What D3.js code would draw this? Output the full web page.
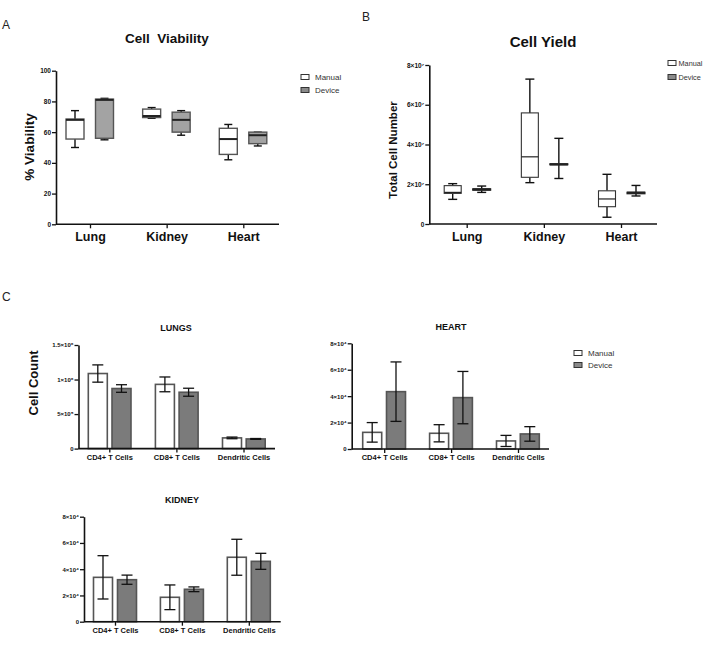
<!DOCTYPE html>
<html><head><meta charset="utf-8">
<script src="https://cdn.jsdelivr.net/npm/d3@7"></script>
<style>
body{margin:0;background:#fff;}
svg{display:block;font-family:"Liberation Sans",Arial,sans-serif;}
</style></head>
<body><svg id="c" width="704" height="645"></svg>
<script>
// ---------- DATA ----------
const organs = ["Lung", "Kidney", "Heart"];
const groups = ["Manual", "Device"];
// [min, q1, median, q3, max]
const viabilityManual = [[50, 55.5, 68, 68.5, 74], [69, 69.5, 70.5, 75, 76], [42, 45.5, 55.5, 62.5, 65]];
const viabilityDevice = [[55, 56, 81, 81.5, 82], [58, 60, 68, 73, 74], [51, 52.5, 58, 60, 60]];
const viabilityTicks = [0, 20, 40, 60, 80, 100];

const yieldManual = [[1.24e7, 1.54e7, 1.59e7, 1.93e7, 2.03e7], [2.08e7, 2.35e7, 3.38e7, 5.59e7, 7.29e7], [0.34e7, 0.87e7, 1.26e7, 1.67e7, 2.5e7]];
const yieldDevice = [[1.59e7, 1.70e7, 1.74e7, 1.77e7, 1.91e7], [2.29e7, 2.98e7, 3.0e7, 3.03e7, 4.31e7], [1.41e7, 1.52e7, 1.57e7, 1.60e7, 1.94e7]];
const yieldTicks = [0, 2e7, 4e7, 6e7, 8e7];
const yieldTickLabels = ["0", "2×10⁷", "4×10⁷", "6×10⁷", "8×10⁷"];

const cellTypes = ["CD4+ T Cells", "CD8+ T Cells", "Dendritic Cells"];
const lungsManual = [1.087e6, 0.93e6, 0.155e6];
const lungsManualErr = [0.125e6, 0.107e6, 0.012e6];
const lungsDevice = [0.87e6, 0.816e6, 0.14e6];
const lungsDeviceErr = [0.055e6, 0.058e6, 0.006e6];
const lungsTicks = [0, 5e5, 1e6, 1.5e6];
const lungsTickLabels = ["0", "5×10⁵", "1×10⁶", "1.5×10⁶"];

const heartManual = [1.26e4, 1.19e4, 0.61e4];
const heartManualErr = [0.74e4, 0.65e4, 0.42e4];
const heartDevice = [4.34e4, 3.89e4, 1.14e4];
const heartDeviceErr = [2.25e4, 1.98e4, 0.55e4];

const kidneyManual = [3.38e4, 1.86e4, 4.91e4];
const kidneyManualErr = [1.65e4, 0.94e4, 1.37e4];
const kidneyDevice = [3.2e4, 2.47e4, 4.6e4];
const kidneyDeviceErr = [0.35e4, 0.18e4, 0.61e4];
const countTicks = [0, 2e4, 4e4, 6e4, 8e4];
const countTickLabels = ["0", "2×10⁴", "4×10⁴", "6×10⁴", "8×10⁴"];

// ---------- DRAW ----------
const svg = d3.select("#c");
const FONT_B = "bold";

function yAxis(g, y, ticks, labels, x, fs) {
  const ax = d3.axisLeft(y).tickValues(ticks).tickSize(4).tickSizeOuter(0)
    .tickFormat((d, i) => labels ? labels[i] : d);
  const a = g.append("g").attr("transform", `translate(${x},0)`).call(ax);
  a.select(".domain").attr("stroke", "#111").attr("stroke-width", 1.6);
  a.selectAll(".tick line").attr("stroke", "#111").attr("stroke-width", 1.3);
  a.selectAll(".tick text").attr("font-size", fs).attr("font-weight", "bold")
    .attr("fill", "#111").attr("x", -5).attr("font-family", "Liberation Sans, Arial, sans-serif");
  return a;
}
function xAxis(g, x, yPos, xStart, xEnd, fs, labelDy) {
  const ax = d3.axisBottom(x).tickSize(4).tickSizeOuter(0);
  const a = g.append("g").attr("transform", `translate(0,${yPos})`).call(ax);
  a.select(".domain").remove();
  a.append("line").attr("x1", xStart).attr("x2", xEnd).attr("stroke", "#111").attr("stroke-width", 1.6);
  a.selectAll(".tick line").attr("stroke", "#111").attr("stroke-width", 1.3);
  a.selectAll(".tick text").attr("font-size", fs).attr("font-weight", "bold").attr("fill", "#111")
    .attr("y", labelDy).attr("font-family", "Liberation Sans, Arial, sans-serif");
  return a;
}
function legend(g, x, y1, y2, fs, gap) {
  const items = [{n: groups[0], f: "#fff"}, {n: groups[1], f: "#8a8a8a"}];
  items.forEach((it, i) => {
    const yy = i === 0 ? y1 : y2;
    g.append("rect").attr("x", x).attr("y", yy - 2.5).attr("width", 8).attr("height", 5)
      .attr("fill", it.f).attr("stroke", "#333").attr("stroke-width", 1);
    g.append("text").attr("x", x + gap).attr("y", yy + 3).attr("font-size", fs)
      .attr("fill", "#333").text(it.n);
  });
}
function boxes(g, x, y, data, offset, w, fill, stroke, sw, medW, capW) {
  data.forEach((d, i) => {
    const cx = x(organs[i]) + offset;
    const [mn, q1, md, q3, mx] = d;
    g.append("line").attr("x1", cx).attr("x2", cx).attr("y1", y(mx)).attr("y2", y(q3)).attr("stroke", "#111").attr("stroke-width", 1.4);
    g.append("line").attr("x1", cx).attr("x2", cx).attr("y1", y(q1)).attr("y2", y(mn)).attr("stroke", "#111").attr("stroke-width", 1.4);
    g.append("line").attr("x1", cx - capW / 2).attr("x2", cx + capW / 2).attr("y1", y(mx)).attr("y2", y(mx)).attr("stroke", "#111").attr("stroke-width", 1.4);
    g.append("line").attr("x1", cx - capW / 2).attr("x2", cx + capW / 2).attr("y1", y(mn)).attr("y2", y(mn)).attr("stroke", "#111").attr("stroke-width", 1.4);
    g.append("rect").attr("x", cx - w / 2).attr("y", y(q3)).attr("width", w).attr("height", Math.max(0.5, y(q1) - y(q3)))
      .attr("fill", fill).attr("stroke", stroke).attr("stroke-width", sw);
    g.append("line").attr("x1", cx - w / 2).attr("x2", cx + w / 2).attr("y1", y(md)).attr("y2", y(md)).attr("stroke", "#222").attr("stroke-width", medW);
  });
}
function bars(g, x, y, vals, errs, offset, w, fill) {
  vals.forEach((v, i) => {
    const cx = x(cellTypes[i]) + offset;
    g.append("rect").attr("x", cx - w / 2).attr("y", y(v)).attr("width", w).attr("height", y(0) - y(v))
      .attr("fill", fill).attr("stroke", "#555").attr("stroke-width", 1.6);
    const e = errs[i];
    g.append("line").attr("x1", cx).attr("x2", cx).attr("y1", y(v + e)).attr("y2", y(v - e)).attr("stroke", "#111").attr("stroke-width", 1.3);
    [v + e, v - e].forEach(t => g.append("line").attr("x1", cx - 5.5).attr("x2", cx + 5.5).attr("y1", y(t)).attr("y2", y(t)).attr("stroke", "#111").attr("stroke-width", 1.3));
  });
}

// Panel letters
svg.append("text").attr("x", 2).attr("y", 29).attr("font-size", 12).attr("fill", "#222").text("A");
svg.append("text").attr("x", 362).attr("y", 21).attr("font-size", 12).attr("fill", "#222").text("B");
svg.append("text").attr("x", 2).attr("y", 301).attr("font-size", 12).attr("fill", "#222").text("C");

// ---- Panel A ----
{
  const g = svg.append("g");
  const y = d3.scaleLinear().domain([0, 100]).range([224.3, 70.7]);
  const x = d3.scalePoint().domain(organs).range([90, 243.3]);
  yAxis(g, y, viabilityTicks, null, 56, 6.5);
  xAxis(g, x, 224.3, 56, 279, 12.5, 8);
  boxes(g, x, y, viabilityManual, -15, 18, "#fff", "#555", 1.4, 2, 8);
  boxes(g, x, y, viabilityDevice, 14.5, 18, "#a3a3a3", "#555", 1.4, 2, 8);
  g.append("text").attr("x", 167).attr("y", 43).attr("text-anchor", "middle").attr("font-size", 13.5).attr("font-weight", FONT_B).attr("fill", "#111").attr("xml:space", "preserve").text("Cell  Viability");
  g.append("text").attr("transform", "translate(34,147) rotate(-90)").attr("text-anchor", "middle").attr("font-size", 13.5).attr("font-weight", FONT_B).attr("fill", "#111").text("% Viability");
  legend(g, 301, 77, 90, 8, 14);
}

// ---- Panel B ----
{
  const g = svg.append("g");
  const y = d3.scaleLinear().domain([0, 8e7]).range([224, 65]);
  const x = d3.scalePoint().domain(organs).range([466.7, 621]);
  yAxis(g, y, yieldTicks, yieldTickLabels, 429.3, 6.5);
  xAxis(g, x, 224, 429.3, 657, 12.5, 8);
  boxes(g, x, y, yieldManual, -14, 17, "#fff", "#333", 1.1, 1.2, 9);
  boxes(g, x, y, yieldDevice, 15, 18, "#8a8a8a", "#222", 1.1, 2.2, 9);
  g.append("text").attr("x", 543).attr("y", 47).attr("text-anchor", "middle").attr("font-size", 15).attr("font-weight", FONT_B).attr("fill", "#111").text("Cell Yield");
  g.append("text").attr("transform", "translate(397,150) rotate(-90)").attr("text-anchor", "middle").attr("font-size", 11.5).attr("font-weight", FONT_B).attr("fill", "#111").text("Total Cell Number");
  legend(g, 668, 63, 77, 7.3, 10.5);
}

// ---- Panel C: LUNGS ----
{
  const g = svg.append("g");
  const y = d3.scaleLinear().domain([0, 1.5e6]).range([448.6, 345]);
  const x = d3.scalePoint().domain(cellTypes).range([109.3, 243.5]);
  bars(g, x, y, lungsManual, lungsManualErr, -11.5, 19, "#fff");
  bars(g, x, y, lungsDevice, lungsDeviceErr, 12.2, 19, "#7b7b7b");
  yAxis(g, y, lungsTicks, lungsTickLabels, 78.5, 6);
  xAxis(g, x, 448.6, 78.5, 275, 7.5, 6);
  g.append("text").attr("x", 176).attr("y", 331).attr("text-anchor", "middle").attr("font-size", 9).attr("font-weight", FONT_B).attr("fill", "#111").text("LUNGS");
  g.append("text").attr("transform", "translate(38,383) rotate(-90)").attr("text-anchor", "middle").attr("font-size", 13).attr("font-weight", FONT_B).attr("fill", "#111").text("Cell Count");
}

// ---- Panel C: HEART ----
{
  const g = svg.append("g");
  const y = d3.scaleLinear().domain([0, 8e4]).range([449, 343.3]);
  const x = d3.scalePoint().domain(cellTypes).range([384.2, 518]);
  bars(g, x, y, heartManual, heartManualErr, -12, 19, "#fff");
  bars(g, x, y, heartDevice, heartDeviceErr, 11.8, 19, "#7b7b7b");
  yAxis(g, y, countTicks, countTickLabels, 351.7, 6);
  xAxis(g, x, 449, 351.7, 549, 7.5, 6);
  g.append("text").attr("x", 451).attr("y", 330).attr("text-anchor", "middle").attr("font-size", 9).attr("font-weight", FONT_B).attr("fill", "#111").text("HEART");
  legend(g, 574, 353, 365, 8, 14);
}

// ---- Panel C: KIDNEY ----
{
  const g = svg.append("g");
  const y = d3.scaleLinear().domain([0, 8e4]).range([621.7, 516.7]);
  const x = d3.scalePoint().domain(cellTypes).range([115, 248.8]);
  bars(g, x, y, kidneyManual, kidneyManualErr, -12, 19, "#fff");
  bars(g, x, y, kidneyDevice, kidneyDeviceErr, 12, 19, "#7b7b7b");
  yAxis(g, y, countTicks, countTickLabels, 84, 6);
  xAxis(g, x, 621.7, 84, 280.7, 7.5, 6);
  g.append("text").attr("x", 182).attr("y", 503).attr("text-anchor", "middle").attr("font-size", 9).attr("font-weight", FONT_B).attr("fill", "#111").text("KIDNEY");
}
</script></body></html>
